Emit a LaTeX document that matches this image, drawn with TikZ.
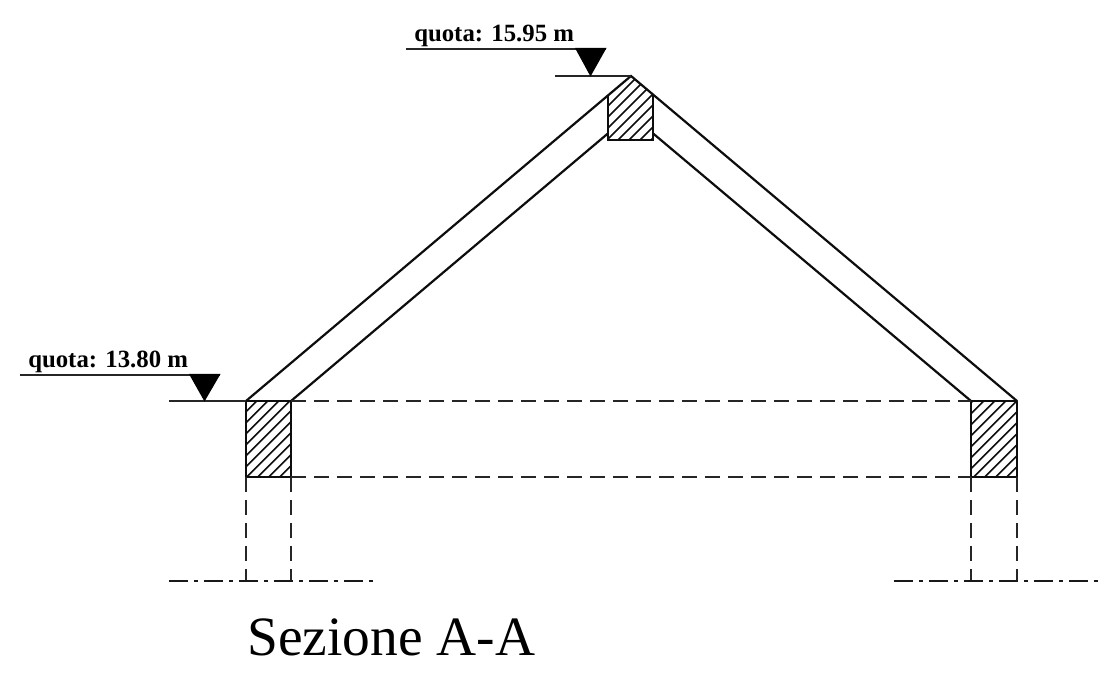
\documentclass[tikz,border=0pt]{standalone}
\usepackage{fontspec}
\setmainfont{Liberation Serif}
\tikzset{
  px/.style={x=0.75pt,y=-0.75pt},
  wall/.style={line width=1.65pt,line cap=round,black!95},
  edge/.style={line width=1.65pt,black!95},
  hatchline/.style={line width=1.2pt,black!95},
  hidden/.style={line width=1.8pt,black!85,dash pattern=on 11.5pt off 5.75pt},
  axis/.style={line width=1.7pt,black!90,dash pattern=on 14.25pt off 4.5pt on 3pt off 4.5pt},
  level/.style={line width=1.9pt,black!85},
  marker/.style={fill=black,draw=none},
  quota/.style={font=\bfseries\fontsize{18.6pt}{20pt}\selectfont,inner sep=0pt,anchor=base west},
  titolo/.style={font=\fontsize{41.6pt}{44pt}\selectfont,inner sep=0pt,anchor=base west}
}
\begin{document}
\begin{tikzpicture}[px]
\useasboundingbox (0,0) rectangle (1104,691);
% key points
\coordinate (apex) at (631,76);
\coordinate (la) at (246,401); \coordinate (lb) at (291,401);
\coordinate (lc) at (291,477); \coordinate (ld) at (246,477);
\coordinate (ra) at (971,401); \coordinate (rb) at (1017,401);
\coordinate (rc) at (1017,477); \coordinate (rd) at (971,477);
\coordinate (ta) at (608,95.4); \coordinate (tb) at (653,94.6);
\coordinate (tc) at (653,140); \coordinate (td) at (608,140);
\coordinate (ti) at (608,133.4); \coordinate (tj) at (653,133.4);
% hatching
\begin{scope}
\clip (la) rectangle (lc);
\foreach \k in {-2,...,12} \draw[hatchline] (657.7+11*\k-500,500) -- +(150,-150);
\end{scope}
\begin{scope}
\clip (ra) rectangle (rc);
\foreach \k in {-2,...,12} \draw[hatchline] (1384.7+11*\k-500,500) -- +(150,-150);
\end{scope}
\begin{scope}
\clip (ta) -- (apex) -- (tb) -- (tc) -- (td) -- cycle;
\foreach \k in {-6,...,6} \draw[hatchline] (758+11*\k-180,180) -- +(130,-130);
\end{scope}
% roof
\draw[wall] (la) -- (apex) -- (rb);
\draw[wall] (lb) -- (ti);
\draw[wall] (tj) -- (ra);
% blocks
\draw[edge] (la) -- (ld) -- (lc) -- (lb);
\draw[edge] (ra) -- (rd) -- (rc) -- (rb);
\draw[edge] (ra) -- (rb);
\draw[edge] (la) -- (lb);
\draw[edge] (ta) -- (td) -- (tc) -- (tb);
% hidden lines
\draw[hidden] (lb) -- (ra);
\draw[hidden] (lc) -- (rd);
\coordinate (lde) at (246,581); \coordinate (lce) at (291,581);
\coordinate (rde) at (971,581); \coordinate (rce) at (1017,581);
\draw[hidden] (ld) -- (lde);
\draw[hidden] (lc) -- (lce);
\draw[hidden] (rd) -- (rde);
\draw[hidden] (rc) -- (rce);
% axes
\coordinate (a1) at (169,581); \coordinate (a2) at (373,581);
\coordinate (a3) at (894,581); \coordinate (a4) at (1098,581);
\draw[axis] (a1) -- (a2);
\draw[axis] (a3) -- (a4);
% level marks
\coordinate (q1) at (406,49); \coordinate (q2) at (606,49); \coordinate (q3) at (555,76);
\draw[level] (q1) -- (q2);
\draw[level] (q3) -- (apex);
\fill[marker] (575,48) -- (606.5,48) -- (590.5,76.5) -- cycle;
\coordinate (q4) at (20,375); \coordinate (q5) at (220,375); \coordinate (q6) at (169,401);
\draw[level] (q4) -- (q5);
\draw[level] (q6) -- (la);
\fill[marker] (189,374) -- (220.5,374) -- (204.5,401.5) -- cycle;
% text
\node[quota] (t1) at (414,42) {quota: 15.95 m};
\node[quota] (t2) at (28,367.5) {quota: 13.80 m};
\node[titolo] (t3) at (247,655) {Sezione A-A};
\end{tikzpicture}
\end{document}
